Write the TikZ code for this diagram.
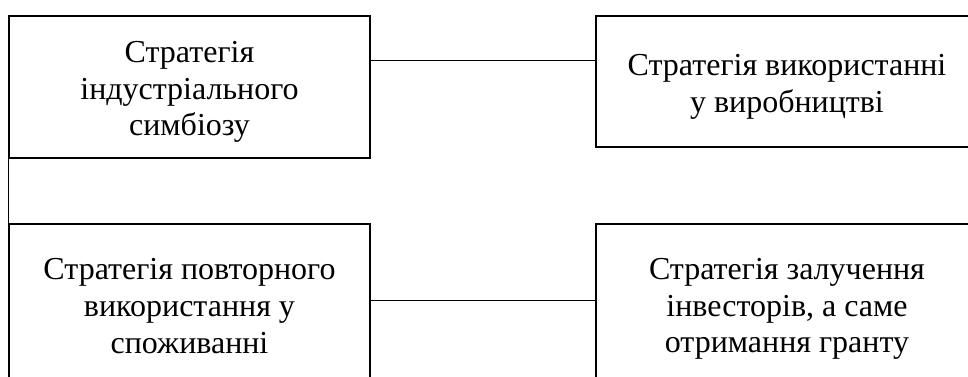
\documentclass[tikz,border=0pt]{standalone}
\usepackage{fontspec}
\setmainfont{Liberation Serif}
\begin{document}
\begin{tikzpicture}[x=0.75pt,y=-0.75pt,
  box/.style={draw=black,line width=1.5pt,rectangle,anchor=north west,inner sep=0pt},
  txt/.style={inner sep=0pt,align=center,font=\fontsize{24}{27.6}\selectfont},
  link/.style={draw=black,line width=0.75pt}]
\useasboundingbox (0,0) rectangle (968,377);
\clip (0,0) rectangle (968,377);
\node[box,minimum width=361*0.75pt,minimum height=142*0.75pt] (tl) at (8,15) {};
\node[box,minimum width=382*0.75pt,minimum height=131*0.75pt] (tr) at (595,15) {};
\node[box,minimum width=361*0.75pt,minimum height=164*0.75pt] (bl) at (8,223) {};
\node[box,minimum width=382*0.75pt,minimum height=166*0.75pt] (br) at (595,223) {};
\node[txt] (tltext) at ([yshift=-3.75pt]tl.center) {Стратегія\\індустріального\\симбіозу};
\node[txt] (trtext) at ([yshift=-3.75pt]tr.center) {Стратегія використанні\\у виробництві};
\node[txt] (bltext) at (bl.center) {Стратегія повторного\\використання у\\споживанні};
\node[txt] (brtext) at ([yshift=-1.5pt]br.center) {Стратегія залучення\\інвесторів, а саме\\отримання гранту};
\coordinate (ytop) at (0,61);
\coordinate (ybot) at (0,301);
\draw[link] (tl.east |- ytop) -- (tr.west |- ytop);
\draw[link] (bl.east |- ybot) -- (br.west |- ybot);
\draw[link] (tl.south west) -- (bl.north west);
\end{tikzpicture}
\end{document}
